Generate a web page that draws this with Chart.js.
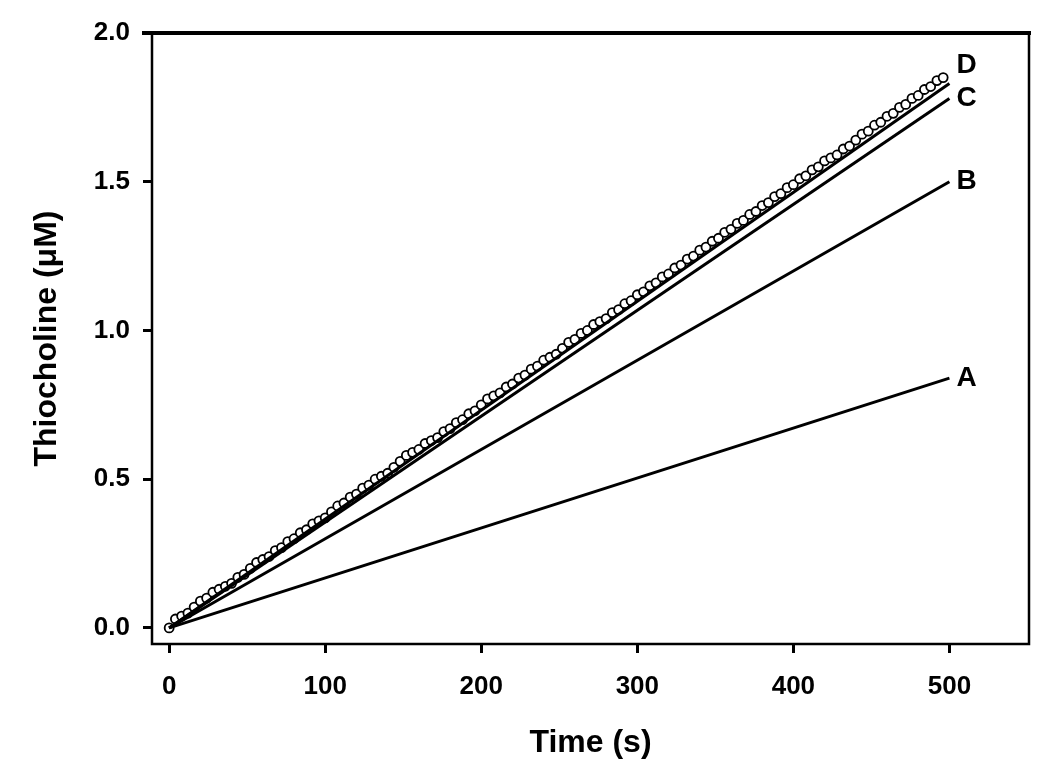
<!DOCTYPE html>
<html>
<head>
<meta charset="utf-8">
<script src="https://cdn.jsdelivr.net/npm/chart.js@4.4.0/dist/chart.umd.min.js"></script>
<style>
  body { margin: 0; background: #fff; }
  #wrap { width: 1050px; height: 781px; }
</style>
</head>
<body>
<div id="wrap"><canvas id="rateChart"></canvas></div>
<script>
// Measured thiocholine points (time in s, concentration in uM)
const timeValues = [0, 4, 8, 12, 16, 20, 24, 28, 32, 36, 40, 44, 48, 52, 56, 60, 64, 68, 72, 76,
    80, 84, 88, 92, 96, 100, 104, 108, 112, 116, 120, 124, 128, 132, 136, 140, 144, 148, 152, 156,
    160, 164, 168, 172, 176, 180, 184, 188, 192, 196, 200, 204, 208, 212, 216, 220, 224, 228, 232, 236,
    240, 244, 248, 252, 256, 260, 264, 268, 272, 276, 280, 284, 288, 292, 296, 300, 304, 308, 312, 316,
    320, 324, 328, 332, 336, 340, 344, 348, 352, 356, 360, 364, 368, 372, 376, 380, 384, 388, 392, 396,
    400, 404, 408, 412, 416, 420, 424, 428, 432, 436, 440, 444, 448, 452, 456, 460, 464, 468, 472, 476,
    480, 484, 488, 492, 496];
const thiocholineValues = [0.00, 0.03, 0.04, 0.05, 0.07, 0.09, 0.10, 0.12, 0.13, 0.14, 0.15, 0.17, 0.18, 0.20, 0.22, 0.23, 0.24, 0.26, 0.27, 0.29,
    0.30, 0.32, 0.33, 0.35, 0.36, 0.37, 0.39, 0.41, 0.42, 0.44, 0.45, 0.47, 0.48, 0.50, 0.51, 0.52, 0.54, 0.56, 0.58, 0.59,
    0.60, 0.62, 0.63, 0.64, 0.66, 0.67, 0.69, 0.70, 0.72, 0.73, 0.75, 0.77, 0.78, 0.79, 0.81, 0.82, 0.84, 0.85, 0.87, 0.88,
    0.90, 0.91, 0.92, 0.94, 0.96, 0.97, 0.99, 1.00, 1.02, 1.03, 1.04, 1.06, 1.07, 1.09, 1.10, 1.12, 1.13, 1.15, 1.16, 1.18,
    1.19, 1.21, 1.22, 1.24, 1.25, 1.27, 1.28, 1.30, 1.31, 1.33, 1.34, 1.36, 1.37, 1.39, 1.40, 1.42, 1.43, 1.45, 1.46, 1.48,
    1.49, 1.51, 1.52, 1.54, 1.55, 1.57, 1.58, 1.59, 1.61, 1.62, 1.64, 1.66, 1.67, 1.69, 1.70, 1.72, 1.73, 1.75, 1.76, 1.78,
    1.79, 1.81, 1.82, 1.84, 1.85];

// Straight lines A-D, from start to end time
const lineNames = ['A', 'B', 'C', 'D'];
const lineTimes = [0, 500];
const lineA = [0, 0.84];
const lineB = [0, 1.50];
const lineC = [0, 1.78];
const lineD = [0, 1.83];
const labelValues = [0.84, 1.50, 1.78, 1.89];

// Axis ticks
const xTicks = [0, 100, 200, 300, 400, 500];
const yTicks = [0.0, 0.5, 1.0, 1.5, 2.0];

const fontFamily = "'Liberation Sans', Arial, sans-serif";

function toPoints(xs, ys) {
    return xs.map((x, i) => ({ x: x, y: ys[i] }));
}

function fitLine(values) {
    return {
        type: 'line',
        data: toPoints(lineTimes, values),
        borderColor: '#000',
        borderWidth: 3,
        pointRadius: 0,
        fill: false,
        tension: 0
    };
}

// Frame round the plot: thin left/bottom/right, heavy top
const framePlugin = {
    id: 'frame',
    afterDatasetsDraw(chart) {
        const { ctx, chartArea: a } = chart;
        ctx.save();
        ctx.strokeStyle = '#000';
        ctx.lineWidth = 2.5;
        ctx.beginPath();
        ctx.moveTo(a.left, a.top);
        ctx.lineTo(a.left, a.bottom);
        ctx.lineTo(a.right, a.bottom);
        ctx.lineTo(a.right, a.top);
        ctx.stroke();
        ctx.lineWidth = 4;
        ctx.beginPath();
        ctx.moveTo(a.left - 10, a.top);
        ctx.lineTo(a.right + 2, a.top);
        ctx.stroke();
        ctx.restore();
    }
};

// Letters at the line ends
const lineLabelPlugin = {
    id: 'lineLabels',
    afterDraw(chart) {
        const { ctx, scales } = chart;
        ctx.save();
        ctx.fillStyle = '#000';
        ctx.font = 'bold 28px ' + fontFamily;
        ctx.textAlign = 'left';
        ctx.textBaseline = 'middle';
        lineNames.forEach((name, i) => {
            const x = scales.x.getPixelForValue(lineTimes[1]) + 7;
            const y = scales.y.getPixelForValue(labelValues[i]);
            ctx.fillText(name, x, y);
        });
        ctx.restore();
    }
};

document.addEventListener('DOMContentLoaded', function() {
    const ctx = document.getElementById('rateChart').getContext('2d');
    new Chart(ctx, {
        type: 'scatter',
        data: {
            datasets: [
                fitLine(lineD),
                fitLine(lineC),
                fitLine(lineB),
                fitLine(lineA),
                {
                    label: 'data',
                    data: toPoints(timeValues, thiocholineValues),
                    pointStyle: 'circle',
                    pointRadius: 4.5,
                    pointBorderWidth: 1.8,
                    pointBackgroundColor: '#fff',
                    pointBorderColor: '#000',
                    showLine: false
                }
            ]
        },
        options: {
            responsive: true,
            maintainAspectRatio: false,
            devicePixelRatio: 1,
            animation: false,
            layout: { padding: { top: 33, right: 21, left: 0, bottom: 0 } },
            plugins: {
                legend: { display: false },
                tooltip: { enabled: false }
            },
            scales: {
                x: {
                    type: 'linear',
                    min: -11,
                    max: 551,
                    afterBuildTicks: scale => { scale.ticks = xTicks.map(v => ({ value: v })); },
                    afterFit: scale => { scale.height = 137; },
                    border: { display: false },
                    grid: { drawOnChartArea: false, drawTicks: true, tickLength: 9, color: '#000', lineWidth: 3 },
                    ticks: {
                        color: '#000',
                        padding: 18,
                        maxRotation: 0,
                        font: { family: fontFamily, size: 26, weight: 'bold' }
                    },
                    title: {
                        display: true,
                        text: 'Time (s)',
                        color: '#000',
                        padding: { top: 0, bottom: 19 },
                        font: { family: fontFamily, size: 32, weight: 'bold' }
                    }
                },
                y: {
                    type: 'linear',
                    min: -0.054,
                    max: 2.0,
                    afterBuildTicks: scale => { scale.ticks = yTicks.map(v => ({ value: v })); },
                    afterFit: scale => { scale.width = 152; },
                    border: { display: false },
                    grid: { drawOnChartArea: false, drawTicks: true, tickLength: 9, color: '#000', lineWidth: 3 },
                    ticks: {
                        color: '#000',
                        padding: 13,
                        callback: value => value.toFixed(1),
                        font: { family: fontFamily, size: 26, weight: 'bold' }
                    },
                    title: {
                        display: true,
                        text: 'Thiocholine (μM)',
                        color: '#000',
                        padding: { top: 28, bottom: 0 },
                        font: { family: fontFamily, size: 32, weight: 'bold' }
                    }
                }
            }
        },
        plugins: [framePlugin, lineLabelPlugin]
    });
});
</script>
</body>
</html>
